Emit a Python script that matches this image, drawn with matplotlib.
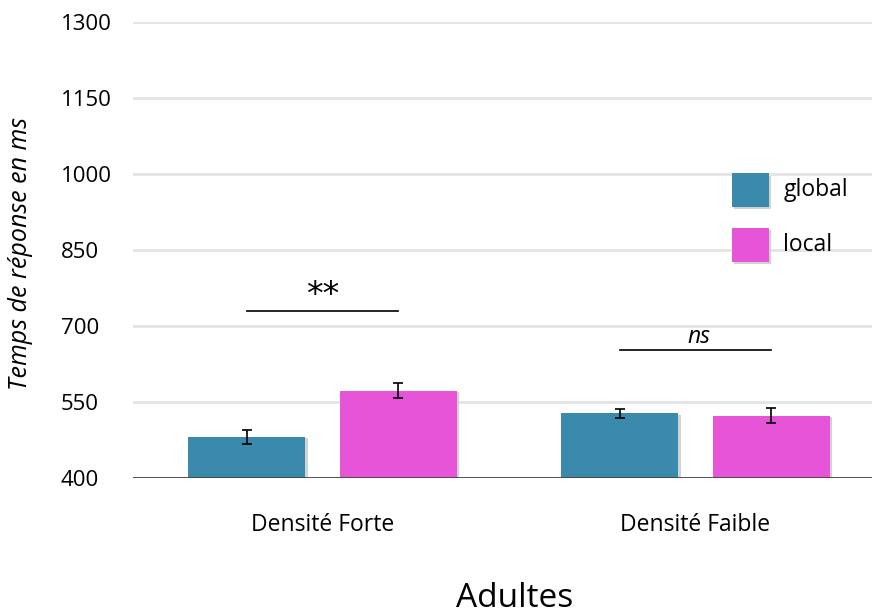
import matplotlib
matplotlib.use("Agg")
import matplotlib.pyplot as plt
from matplotlib.patches import Rectangle

plt.rcParams['font.family'] = ['Open Sans', 'DejaVu Sans']

categories = ["Densité Forte", "Densité Faible"]
series = ["global", "local"]
global_vals = [481, 528]
local_vals = [572, 523]
global_err = [14, 9]
local_err = [15, 15]
colors = ["#3a8aae", "#e655d8"]
yticks = [400, 550, 700, 850, 1000, 1150, 1300]

fig = plt.figure(figsize=(8.72, 6.14), dpi=100)
ax = fig.add_axes([0.1525, 0.2215, 0.8475, 0.7427])
ax.set_xlim(-0.008, 1.973)
ax.set_ylim(400, 1300)

centers = [0.5, 1.5]
width = 0.314
offset = 0.203
for vals, errs, col, sgn in [(global_vals, global_err, colors[0], -1), (local_vals, local_err, colors[1], 1)]:
    xs = [c + sgn * offset for c in centers]
    for x, v in zip(xs, vals):
        ax.add_patch(Rectangle((x - width / 2 + 0.007, 400), width, v - 400 - 3,
                               facecolor="#d2d2d2", edgecolor="none", zorder=2))
    ax.bar(xs, [v - 400 for v in vals], bottom=400, width=width, color=col, zorder=3)
    ax.errorbar(xs, vals, yerr=errs, fmt="none", ecolor="black", elinewidth=1.2,
                capsize=3.3, capthick=1.2, zorder=4)

for y in yticks[1:]:
    ax.axhline(y, color="#e3e3e3", lw=2, zorder=1)
ax.axhline(400, color="#444444", lw=1.3, zorder=5)

for s in ax.spines.values():
    s.set_visible(False)
ax.set_yticks(yticks)
ax.set_yticklabels([str(t) for t in yticks], fontsize=16)
ax.tick_params(axis='y', length=0, pad=52)
for lab in ax.get_yticklabels():
    lab.set_horizontalalignment("left")
ax.set_xticks(centers)
ax.set_xticklabels(categories, fontsize=16.5)
ax.tick_params(axis='x', length=0, pad=25)

fig.text(21 / 872, 1 - 254 / 614, "Temps de réponse en ms", fontsize=18, style="italic",
         rotation=90, ha="center", va="center")

# significance
ax.plot([centers[0] - offset, centers[0] + offset], [730, 730], color="black", lw=1.2, zorder=6)
ax.text(centers[0], 761, "**", ha="center", va="center", fontsize=24,
        family="DejaVu Sans")
ax.plot([centers[1] - offset, centers[1] + offset], [653, 653], color="black", lw=1.2, zorder=6)
ax.text(centers[1] + 0.01, 679, "ns", ha="center", va="center", fontsize=16.5, style="italic")

# legend
for i, (lab, col) in enumerate(zip(series, colors)):
    yc = 968 - i * 108
    ax.add_patch(Rectangle((1.598 + 0.006, yc - 34 - 4), 0.099, 67, facecolor="#d2d2d2",
                           edgecolor="none", zorder=6))
    ax.add_patch(Rectangle((1.598, yc - 34), 0.099, 67, facecolor=col, edgecolor="none", zorder=7))
    ax.text(1.735, yc, lab, ha="left", va="center", fontsize=16.5)

fig.text(0.59, 0.0114, "Adultes", ha="center", va="baseline", fontsize=24)

fig.savefig("out.png", dpi=100)
